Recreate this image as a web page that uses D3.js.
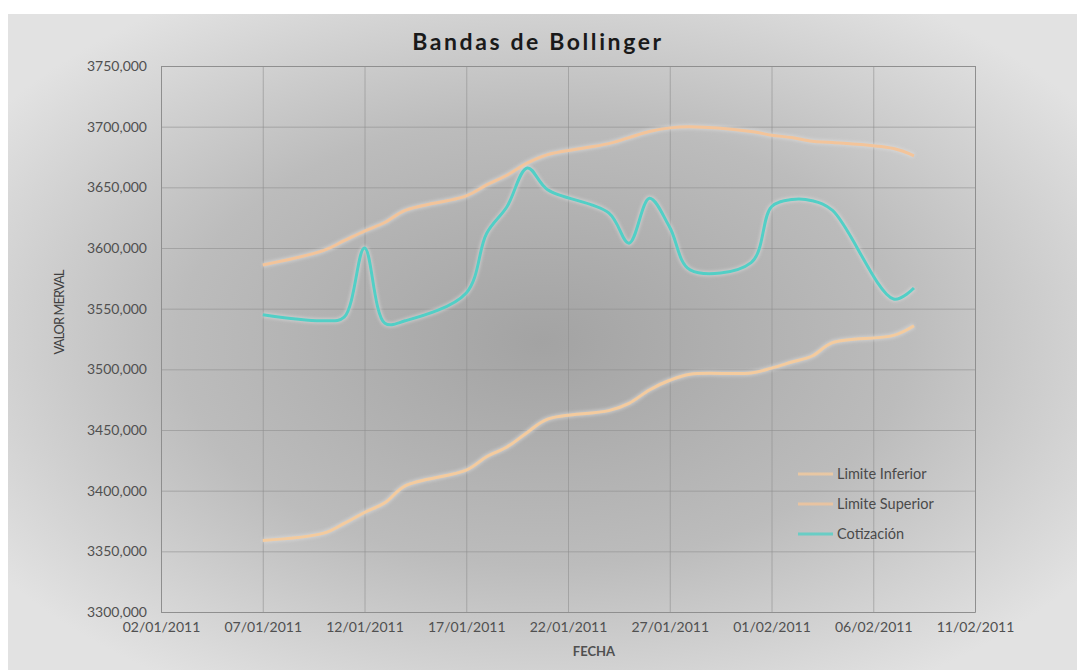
<!DOCTYPE html>
<html>
<head>
<meta charset="utf-8">
<script src="https://cdn.jsdelivr.net/npm/d3@7"></script>
<style>
  body { margin: 0; background: #fff; }
  text { font-family: Lato, "Open Sans", sans-serif; }
</style>
</head>
<body>
<svg id="chart" width="1077" height="670"></svg>
<script>
// trading days shown in the chart
const fechas = ["07/01/2011","10/01/2011","11/01/2011","12/01/2011","13/01/2011","14/01/2011",
  "17/01/2011","18/01/2011","19/01/2011","20/01/2011","21/01/2011","24/01/2011","25/01/2011",
  "26/01/2011","27/01/2011","28/01/2011","31/01/2011","01/02/2011","02/02/2011","03/02/2011",
  "04/02/2011","07/02/2011","08/02/2011"];

const limiteInferior = [3359,3365,3373,3382,3390,3404,3417,3428,3436,3448,3459,3466,3472,
  3483,3491,3496,3497,3501,3506,3511,3522,3528,3536];
const limiteSuperior = [3586,3598,3606,3614,3621,3631,3643,3652,3660,3670,3677,3686,3691,
  3696,3699,3700,3696,3693,3691,3688,3687,3682,3676];
const cotizacion = [3545,3540,3543,3600,3538,3540,3563,3612,3634,3666,3648,3629,3604,
  3641,3617,3582,3588,3634,3640,3639,3631,3558,3567];

const xTicks = ["02/01/2011","07/01/2011","12/01/2011","17/01/2011","22/01/2011",
  "27/01/2011","01/02/2011","06/02/2011","11/02/2011"];
const yTicks = [3300,3350,3400,3450,3500,3550,3600,3650,3700,3750];

const parse = d3.timeParse("%d/%m/%Y");
const fmtX = d3.timeFormat("%d/%m/%Y");
const fmtY = d => d3.format("d")(d) + ",000";

const width = 1077, height = 670;
const margin = {left: 161, right: 102, top: 66, bottom: 58};

const svg = d3.select("#chart");

// background with the radial shading
const defs = svg.append("defs");
const grad = defs.append("radialGradient").attr("id", "bg")
  .attr("cx", "50%").attr("cy", "50%").attr("r", "62%");
grad.append("stop").attr("offset", "0%").attr("stop-color", "#a3a3a3");
grad.append("stop").attr("offset", "55%").attr("stop-color", "#bcbcbc");
grad.append("stop").attr("offset", "100%").attr("stop-color", "#e2e2e2");

const glow = defs.append("filter").attr("id", "glow")
  .attr("x", "-5%").attr("y", "-5%").attr("width", "110%").attr("height", "110%");
glow.append("feGaussianBlur").attr("stdDeviation", 1.5);

svg.append("rect").attr("x", 8).attr("y", 14)
  .attr("width", width - 8).attr("height", height - 14)
  .attr("fill", "url(#bg)");

const x = d3.scaleTime()
  .domain([parse(xTicks[0]), parse(xTicks[xTicks.length - 1])])
  .range([margin.left, width - margin.right]);
const y = d3.scaleLinear()
  .domain([3300, 3750])
  .range([height - margin.bottom, margin.top]);

// grid
const gridX = svg.append("g")
  .attr("transform", `translate(0,${height - margin.bottom})`)
  .call(d3.axisBottom(x).tickValues(xTicks.map(parse))
    .tickSize(-(height - margin.top - margin.bottom)).tickFormat(fmtX).tickPadding(10));
gridX.select(".domain").attr("stroke", "#8e8e8e");
gridX.selectAll(".tick line").attr("stroke", "#8f8f8f").attr("stroke-opacity", 0.6);
gridX.selectAll(".tick text").attr("fill", "#505050").attr("font-size", 14);

const gridY = svg.append("g")
  .attr("transform", `translate(${margin.left},0)`)
  .call(d3.axisLeft(y).tickValues(yTicks)
    .tickSize(-(width - margin.left - margin.right)).tickFormat(fmtY).tickPadding(14));
gridY.select(".domain").attr("stroke", "#8e8e8e");
gridY.selectAll(".tick line").attr("stroke", "#8f8f8f").attr("stroke-opacity", 0.6);
gridY.selectAll(".tick text").attr("fill", "#505050").attr("font-size", 14);

// series
const series = [
  {name: "Limite Inferior", values: limiteInferior, color: "#f4cb9e"},
  {name: "Limite Superior", values: limiteSuperior, color: "#f3c49a"},
  {name: "Cotización", values: cotizacion, color: "#52cfc6"}
];

const line = d3.line()
  .x((d, i) => x(parse(fechas[i])))
  .y(d => y(d))
  .curve(d3.curveCatmullRom.alpha(0.5));

series.forEach(s => {
  svg.append("path").attr("d", line(s.values))
    .attr("fill", "none").attr("stroke", "#dedede").attr("stroke-opacity", 0.55)
    .attr("stroke-width", 5.5).attr("filter", "url(#glow)");
  svg.append("path").attr("d", line(s.values))
    .attr("fill", "none").attr("stroke", s.color)
    .attr("stroke-width", 3).attr("stroke-linejoin", "round");
});

// title & axis titles
svg.append("text").attr("x", 538).attr("y", 50)
  .attr("text-anchor", "middle").attr("font-size", 23).attr("font-weight", "bold")
  .attr("fill", "#1a1a1a").attr("letter-spacing", 2.6).text("Bandas de Bollinger");

svg.append("text").attr("transform", "translate(64,312) rotate(-90)")
  .attr("text-anchor", "middle").attr("font-size", 13).attr("fill", "#404040")
  .attr("textLength", 85).text("VALOR MERVAL");

svg.append("text").attr("x", 594).attr("y", 656)
  .attr("text-anchor", "middle").attr("font-size", 13).attr("font-weight", "bold")
  .attr("fill", "#505050").text("FECHA");

// legend
const legend = svg.append("g").attr("transform", "translate(798,474)");
series.forEach((s, i) => {
  const g = legend.append("g").attr("transform", `translate(0,${i * 30})`);
  g.append("line").attr("x1", 0).attr("x2", 35)
    .attr("stroke", s.color).attr("stroke-width", 3).attr("stroke-opacity", 0.8);
  g.append("text").attr("x", 39).attr("y", 5).attr("font-size", 14.5)
    .attr("fill", "#4a4a4a").text(s.name);
});
</script>
</body>
</html>
